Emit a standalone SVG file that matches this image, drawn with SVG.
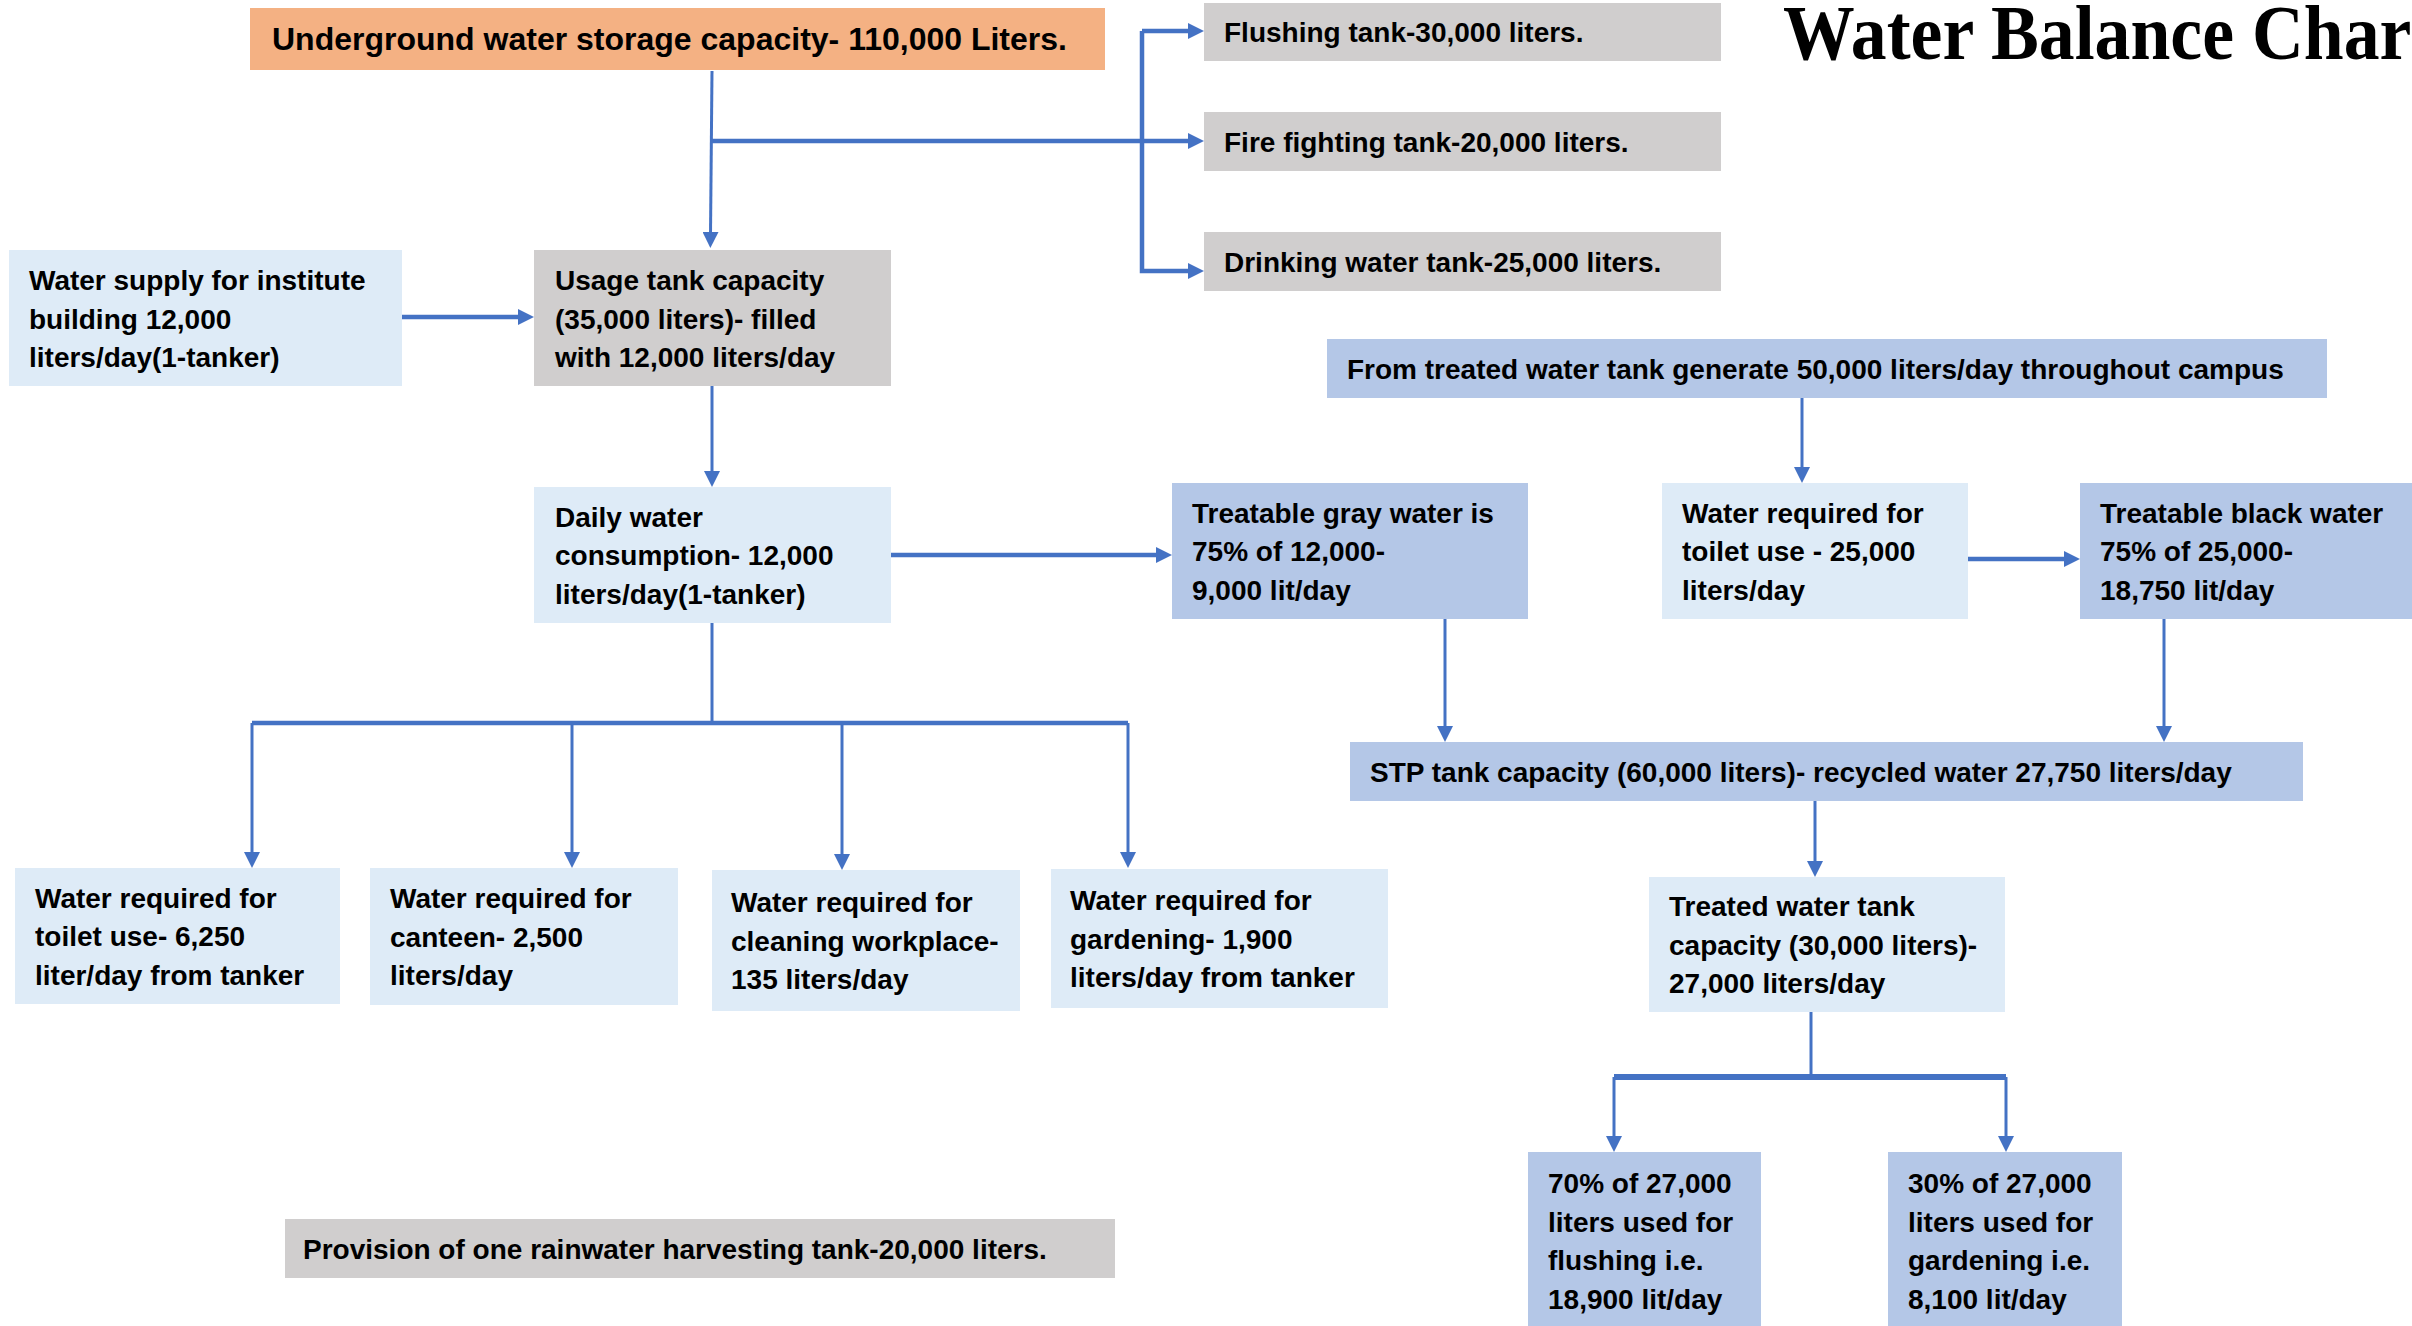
<svg xmlns="http://www.w3.org/2000/svg" width="2412" height="1326" viewBox="0 0 2412 1326">
<defs>
<style>
.t{font-family:"Liberation Sans",Arial,sans-serif;font-weight:bold;font-size:28px;fill:#000}
.big{font-size:32px}
.title{font-family:"Liberation Serif","Times New Roman",serif;font-weight:bold;font-size:78px;fill:#000}
.orange{fill:#F4B183}
.grey{fill:#D0CECE}
.light{fill:#DEEBF7}
.mid{fill:#B4C7E7}
.c{fill:none;stroke:#4472C4;stroke-width:3}
.k{fill:none;stroke:#4472C4;stroke-width:4.5}
.a{marker-end:url(#arr)}
</style>
<marker id="arr" markerUnits="userSpaceOnUse" markerWidth="16" markerHeight="16" refX="2" refY="8" orient="auto">
<path d="M0,0 L16,8 L0,16 z" fill="#4472C4"/>
</marker>
</defs>
<rect width="2412" height="1326" fill="#fff"/>

<g id="connectors">
<path class="c a" d="M712,71 L710.5,234"/>
<path class="k a" d="M712,141 H1190"/>
<path class="k a" d="M1142,31 H1190"/>
<path class="k a" d="M1142,31 V271 H1190"/>
<path class="k a" d="M402,317 H520"/>
<path class="c a" d="M712,386 V473"/>
<path class="k a" d="M891,555 H1158"/>
<path class="c" d="M712,623 V723"/>
<path class="k" d="M252,723 H1128"/>
<path class="c a" d="M252,723 V854"/>
<path class="c a" d="M572,723 V854"/>
<path class="c a" d="M842,723 V856"/>
<path class="c a" d="M1128,723 V854"/>
<path class="c a" d="M1802,398 V469"/>
<path class="k a" d="M1968,559 H2066"/>
<path class="c a" d="M1445,619 V728"/>
<path class="c a" d="M2164,619 V728"/>
<path class="c a" d="M1815,790 V863"/>
<path class="c" d="M1811,1012 V1077"/>
<path class="k" d="M1614,1077 H2006" style="stroke-width:6"/>
<path class="c a" d="M1614,1077 V1138"/>
<path class="c a" d="M2006,1077 V1138"/>
</g>

<g id="n-underground"><rect class="orange" x="250" y="8" width="855" height="62"/><text class="t big" x="272" y="50">Underground water storage capacity- 110,000 Liters.</text></g>
<g id="n-flushing"><rect class="grey" x="1204" y="3" width="517" height="58"/><text class="t" x="1224" y="42">Flushing tank-30,000 liters.</text></g>
<g id="n-fire"><rect class="grey" x="1204" y="112" width="517" height="59"/><text class="t" x="1224" y="151.5">Fire fighting tank-20,000 liters.</text></g>
<g id="n-drinking"><rect class="grey" x="1204" y="232" width="517" height="59"/><text class="t" x="1224" y="271.5">Drinking water tank-25,000 liters.</text></g>
<g id="title"><text class="title" transform="translate(1783,59) scale(0.92,1)">Water Balance Chart</text></g>

<g id="n-supply"><rect class="light" x="9" y="250" width="393" height="136"/><text class="t"><tspan x="29" y="290">Water supply for institute</tspan><tspan x="29" y="328.5">building 12,000</tspan><tspan x="29" y="367">liters/day(1-tanker)</tspan></text></g>
<g id="n-usage"><rect class="grey" x="534" y="250" width="357" height="136"/><text class="t"><tspan x="555" y="290">Usage tank capacity</tspan><tspan x="555" y="328.5">(35,000 liters)- filled</tspan><tspan x="555" y="367">with 12,000 liters/day</tspan></text></g>
<g id="n-daily"><rect class="light" x="534" y="487" width="357" height="136"/><text class="t"><tspan x="555" y="526.5">Daily water</tspan><tspan x="555" y="565">consumption- 12,000</tspan><tspan x="555" y="603.5">liters/day(1-tanker)</tspan></text></g>
<g id="n-gray"><rect class="mid" x="1172" y="483" width="356" height="136"/><text class="t"><tspan x="1192" y="522.5">Treatable gray water is</tspan><tspan x="1192" y="561">75% of 12,000-</tspan><tspan x="1192" y="599.5">9,000 lit/day</tspan></text></g>
<g id="n-fromtreated"><rect class="mid" x="1327" y="339" width="1000" height="59"/><text class="t" x="1347" y="378.5">From treated water tank generate 50,000 liters/day throughout campus</text></g>
<g id="n-toilet25"><rect class="light" x="1662" y="483" width="306" height="136"/><text class="t"><tspan x="1682" y="522.5">Water required for</tspan><tspan x="1682" y="561">toilet use - 25,000</tspan><tspan x="1682" y="599.5">liters/day</tspan></text></g>
<g id="n-black"><rect class="mid" x="2080" y="483" width="340" height="136"/><text class="t"><tspan x="2100" y="522.5">Treatable black water</tspan><tspan x="2100" y="561">75% of 25,000-</tspan><tspan x="2100" y="599.5">18,750 lit/day</tspan></text></g>
<g id="n-stp"><rect class="mid" x="1350" y="742" width="953" height="59"/><text class="t" x="1370" y="781.5">STP tank capacity (60,000 liters)- recycled water 27,750 liters/day</text></g>
<g id="n-treated"><rect class="light" x="1649" y="877" width="356" height="135"/><text class="t"><tspan x="1669" y="916">Treated water tank</tspan><tspan x="1669" y="954.5">capacity (30,000 liters)-</tspan><tspan x="1669" y="993">27,000 liters/day</tspan></text></g>
<g id="n-flush70"><rect class="mid" x="1528" y="1152" width="233" height="180"/><text class="t"><tspan x="1548" y="1193">70% of 27,000</tspan><tspan x="1548" y="1231.5">liters used for</tspan><tspan x="1548" y="1270">flushing i.e.</tspan><tspan x="1548" y="1308.5">18,900 lit/day</tspan></text></g>
<g id="n-garden30"><rect class="mid" x="1888" y="1152" width="234" height="180"/><text class="t"><tspan x="1908" y="1193">30% of 27,000</tspan><tspan x="1908" y="1231.5">liters used for</tspan><tspan x="1908" y="1270">gardening i.e.</tspan><tspan x="1908" y="1308.5">8,100 lit/day</tspan></text></g>
<g id="n-provision"><rect class="grey" x="285" y="1219" width="830" height="59"/><text class="t" x="303" y="1258.5">Provision of one rainwater harvesting tank-20,000 liters.</text></g>
<g id="n-toilet"><rect class="light" x="15" y="868" width="325" height="136"/><text class="t"><tspan x="35" y="907.5">Water required for</tspan><tspan x="35" y="946">toilet use- 6,250</tspan><tspan x="35" y="984.5">liter/day from tanker</tspan></text></g>
<g id="n-canteen"><rect class="light" x="370" y="868" width="308" height="137"/><text class="t"><tspan x="390" y="908">Water required for</tspan><tspan x="390" y="946.5">canteen- 2,500</tspan><tspan x="390" y="985">liters/day</tspan></text></g>
<g id="n-cleaning"><rect class="light" x="712" y="870" width="308" height="141"/><text class="t"><tspan x="731" y="912">Water required for</tspan><tspan x="731" y="950.5">cleaning workplace-</tspan><tspan x="731" y="989">135 liters/day</tspan></text></g>
<g id="n-gardening"><rect class="light" x="1051" y="869" width="337" height="139"/><text class="t"><tspan x="1070" y="910">Water required for</tspan><tspan x="1070" y="948.5">gardening- 1,900</tspan><tspan x="1070" y="987">liters/day from tanker</tspan></text></g>
</svg>
